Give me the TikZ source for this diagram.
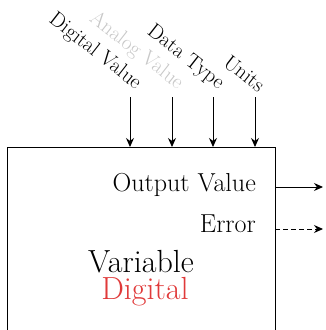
\documentclass[tikz,border=0pt]{standalone}
\usetikzlibrary{arrows.meta}
\definecolor{dred}{HTML}{E03A3A}
\definecolor{lgray}{HTML}{C8C8C8}
\tikzset{
  base/.style={font=\fontsize{26}{29}\selectfont},
  inlabel/.style={font=\fontsize{21}{24}\selectfont, anchor=south east, rotate=-38, inner sep=1pt},
  inarrow/.style={-{Stealth[length=9pt,width=8pt]}, line width=1pt},
  outarrow/.style={-{Stealth[length=9pt,width=8pt]}, line width=1pt},
  bigtext/.style={font=\fontsize{32}{35}\selectfont, anchor=base, inner sep=0pt},
}
\begin{document}
\begin{tikzpicture}[x=1pt,y=-1pt]
\clip (0,0) rectangle (325,330);
\node[draw, line width=1pt, anchor=north west, minimum width=268pt, minimum height=230pt, inner sep=0pt] (box) at (7,147) {};
% inputs
\coordinate (i1) at (130,97);
\coordinate (i2) at (172,97);
\coordinate (i3) at (213,97);
\coordinate (i4) at (255,97);
\draw[inarrow] (i1) -- (i1 |- box.north);
\draw[inarrow] (i2) -- (i2 |- box.north);
\draw[inarrow] (i3) -- (i3 |- box.north);
\draw[inarrow] (i4) -- (i4 |- box.north);
\node[inlabel] (l1) at (133,95) {Digital Value};
\node[inlabel, text=lgray] (l2) at (175,95) {Analog Value};
\node[inlabel] (l3) at (216,95) {Data Type};
\node[inlabel] (l4) at (258,95) {Units};
% outputs
\node[base, anchor=base east, inner sep=0pt] (ov) at (256,191) {Output Value};
\node[base, anchor=base east, inner sep=0pt] (er) at (256,232) {Error};
\coordinate (o1) at (275,187);
\coordinate (o2) at (275,229);
\coordinate (e1) at (323,187);
\coordinate (e2) at (323,229);
\draw[outarrow] (o1) -- (e1);
\draw[outarrow, dashed, dash pattern=on 5pt off 3pt] (o2) -- (e2);
% title
\node[bigtext] (v) at (141,272) {Variable};
\node[bigtext, text=dred] (d) at (145,299) {Digital};
\end{tikzpicture}
\end{document}
